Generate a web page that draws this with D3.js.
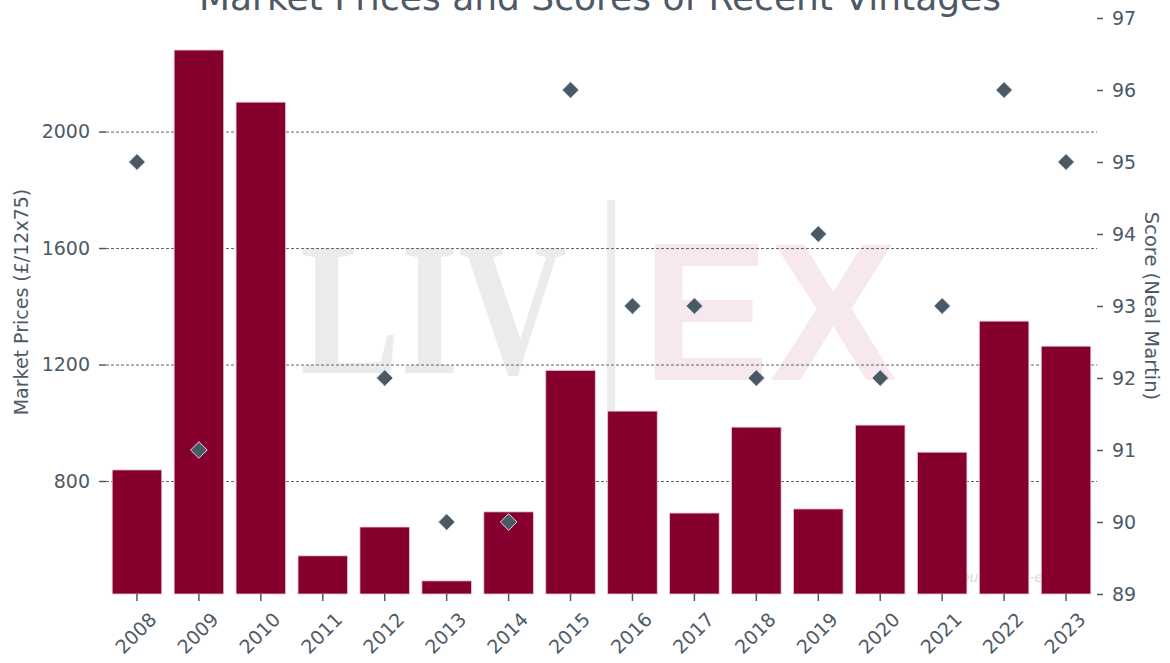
<!DOCTYPE html>
<html>
<head>
<meta charset="utf-8">
<script src="https://cdn.jsdelivr.net/npm/d3@7"></script>
<style>
  html, body { margin: 0; padding: 0; background: #fff; }
  svg { display: block; font-family: "DejaVu Sans", sans-serif; }
</style>
</head>
<body>
<svg id="chart" width="1170" height="663"></svg>
<script>
// data
const vintages = ["2008","2009","2010","2011","2012","2013","2014","2015",
                  "2016","2017","2018","2019","2020","2021","2022","2023"];
const prices = [838, 2280, 2101, 543, 642, 457, 694, 1180,
                1040, 690, 985, 704, 992, 899, 1349, 1263];
const scores = [95, 91, null, null, 92, 90, 90, 96,
                93, 93, 92, 94, 92, 93, 96, 95];
const priceTicks = [800, 1200, 1600, 2000];
const scoreTicks = [89, 90, 91, 92, 93, 94, 95, 96, 97];

const textCol = "#4d5a66";
const barCol = "#85002f";
const dotCol = "#4a5966";

let svg = d3.select("#chart");
let plotL = 106, plotR = 1097, plotT = 18, plotB = 594;

let x = d3.scaleBand()
    .domain(vintages)
    .range([plotL, plotR])
    .paddingInner(0.2)
    .paddingOuter(0.1);

let yPrice = d3.scaleLinear().domain([412, 2390]).range([plotB, plotT]);
let yScore = d3.scaleLinear().domain([89, 97]).range([plotB, plotT]);

// watermark
let wm = svg.append("g");
wm.append("text")
  .attr("x", 300).attr("y", 373)
  .attr("font-family", "Liberation Serif, serif")
  .attr("font-weight", "bold")
  .attr("font-size", 190)
  .attr("textLength", 267)
  .attr("lengthAdjust", "spacingAndGlyphs")
  .attr("fill", "#ebebeb")
  .text("LIV");
wm.append("rect")
  .attr("x", 607).attr("y", 200).attr("width", 8).attr("height", 360)
  .attr("fill", "#ececef");
wm.append("text")
  .attr("x", 642).attr("y", 380)
  .attr("font-family", "Liberation Sans, sans-serif")
  .attr("font-weight", "bold")
  .attr("font-size", 196)
  .attr("textLength", 255)
  .attr("lengthAdjust", "spacingAndGlyphs")
  .attr("fill", "#f6e8ec")
  .text("EX");
wm.append("text")
  .attr("x", 952).attr("y", 582)
  .attr("font-size", 14)
  .attr("font-style", "italic")
  .attr("fill", "#d8d8dc")
  .text("Source: Liv-ex.");

// gridlines
svg.append("g")
  .selectAll("line")
  .data(priceTicks)
  .join("line")
    .attr("x1", plotL).attr("x2", plotR)
    .attr("y1", d => yPrice(d) + 0.5).attr("y2", d => yPrice(d) + 0.5)
    .attr("stroke", "#5b6875")
    .attr("stroke-width", 1)
    .attr("stroke-dasharray", "3,2");

// bars
svg.append("g")
  .selectAll("rect")
  .data(vintages)
  .join("rect")
    .attr("x", d => x(d))
    .attr("y", (d, i) => yPrice(prices[i]))
    .attr("width", x.bandwidth())
    .attr("height", (d, i) => plotB - yPrice(prices[i]))
    .attr("fill", barCol)
    .attr("stroke", "#e8c9d3")
    .attr("stroke-width", 0.8);

// score diamonds
let diamond = d3.symbol().type(d3.symbolDiamond2).size(175);
svg.append("g")
  .selectAll("path")
  .data(vintages.filter((d, i) => scores[i] != null))
  .join("path")
    .attr("d", diamond)
    .attr("transform", d => "translate(" + (x(d) + x.bandwidth() / 2) + "," +
          yScore(scores[vintages.indexOf(d)]) + ")")
    .attr("fill", dotCol)
    .attr("stroke", "#d9dde1")
    .attr("stroke-width", 1);

// axes
function styleAxis(g) {
  g.select(".domain").remove();
  g.selectAll(".tick line").attr("stroke", textCol).attr("stroke-width", 1.5);
  g.selectAll(".tick text").attr("fill", textCol).attr("font-family", "DejaVu Sans, sans-serif");
}

svg.append("g")
  .attr("transform", "translate(" + plotL + ",0)")
  .call(d3.axisLeft(yPrice).tickValues(priceTicks).tickFormat(d3.format("d"))
        .tickSize(7).tickPadding(9))
  .call(styleAxis)
  .selectAll(".tick text").attr("font-size", 19);

svg.append("g")
  .attr("transform", "translate(" + plotR + ",0)")
  .call(d3.axisRight(yScore).tickValues(scoreTicks).tickSize(6).tickPadding(9))
  .call(styleAxis)
  .selectAll(".tick text").attr("font-size", 19);

let xg = svg.append("g")
  .attr("transform", "translate(0," + plotB + ")")
  .call(d3.axisBottom(x).tickSize(7).tickPadding(4))
  .call(styleAxis);
xg.selectAll(".tick text")
  .attr("font-size", 19)
  .attr("text-anchor", "end")
  .attr("dy", "0")
  .attr("transform", "translate(13,19) rotate(-45)");

// titles
svg.append("text")
  .attr("x", 600).attr("y", 10)
  .attr("text-anchor", "middle")
  .attr("font-size", 36)
  .attr("fill", textCol)
  .text("Market Prices and Scores of Recent Vintages");

svg.append("text")
  .attr("transform", "translate(28,302) rotate(-90)")
  .attr("text-anchor", "middle")
  .attr("font-size", 19)
  .attr("fill", textCol)
  .text("Market Prices (£/12x75)");

svg.append("text")
  .attr("transform", "translate(1145,306) rotate(90)")
  .attr("text-anchor", "middle")
  .attr("font-size", 19.5)
  .attr("fill", textCol)
  .text("Score (Neal Martin)");
</script>
</body>
</html>
